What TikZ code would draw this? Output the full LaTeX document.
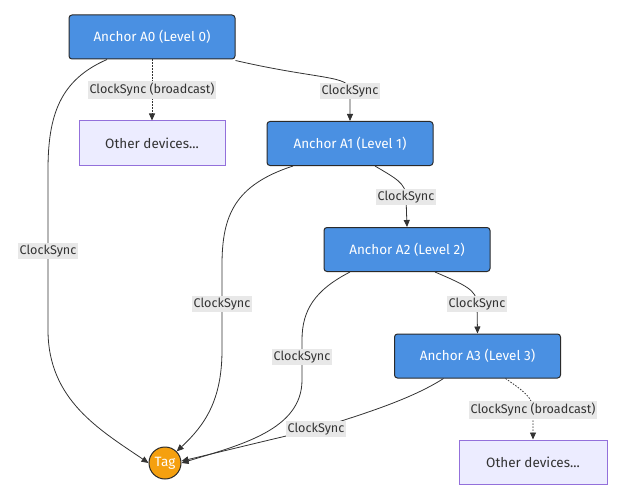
\documentclass[tikz,border=0pt]{standalone}
\usepackage{fontspec}
\setmainfont{Fira Sans}
\usetikzlibrary{arrows.meta,calc}
\definecolor{anc}{HTML}{4A90E2}
\definecolor{ancb}{HTML}{2A2A2A}
\definecolor{oth}{HTML}{ECECFF}
\definecolor{othb}{HTML}{9370DB}
\definecolor{tagc}{HTML}{F5A00F}
\definecolor{lbl}{HTML}{E8E8E8}
\definecolor{txt}{HTML}{333333}
\tikzset{
  anchorbox/.style={draw=ancb,line width=1pt,fill=anc,rounded corners=3pt,minimum width=166pt,minimum height=44pt,text=white,font=\fontsize{13.5}{15}\selectfont,inner sep=0pt},
  otherbox/.style={draw=othb,line width=1pt,fill=oth,minimum width=146pt,minimum height=44pt,text=txt,font=\fontsize{13.5}{15}\selectfont,inner sep=0pt},
  tagnode/.style={circle,draw=ancb,line width=1pt,fill=tagc,minimum size=32pt,inner sep=0pt,text=white,font=\fontsize{13.5}{15}\selectfont},
  edgelbl/.style={fill=lbl,text=txt,font=\fontsize{12.6}{14}\selectfont,inner sep=2pt},
  edge/.style={draw=txt,line width=0.8pt,-{Triangle[length=7pt,width=6pt]}},
  dotedge/.style={edge,dash pattern=on 1.5pt off 1.5pt},
}
\begin{document}
\begin{tikzpicture}[x=1pt,y=-1pt]
\useasboundingbox (0,0) rectangle (618,500);
\node[anchorbox] (A0) at (152,37) {Anchor A0 (Level 0)};
\node[otherbox] (O1) at (152,143) {Other devices...};
\node[anchorbox] (A1) at (350,143.5) {Anchor A1 (Level 1)};
\node[anchorbox] (A2) at (407,249.5) {Anchor A2 (Level 2)};
\node[anchorbox] (A3) at (477.5,356) {Anchor A3 (Level 3)};
\node[otherbox,minimum width=148pt] (O2) at (533,462) {Other devices...};
\node[tagnode] (T) at (165,463) {Tag};

\coordinate (a0t) at (48,251);
\coordinate (a0o) at (152,90);
\coordinate (a01) at (350,91);
\coordinate (a1t) at (222,304);
\coordinate (a12) at (406,197);
\coordinate (a2t) at (302,357);
\coordinate (a23) at (477,304);
\coordinate (a3t) at (316,429);
\coordinate (a3o) at (533,410);

\draw[edge] ($(A0.south)+(-45,0)$) .. controls (60,80) and (48,115) .. (48,170) -- (a0t) -- (48,330) .. controls (48,400) and (100,430) .. (T.west);
\draw[dotedge] (A0.south) -- (O1.north);
\draw[edge] ($(A0.south east)+(0,1)$) .. controls (320,80) and (350,75) .. (a01) -- (A1.north);
\draw[edge] ($(A1.south)+(-57,0)$) .. controls (235,185) and (222,215) .. (222,265) -- (a1t) -- (222,350) .. controls (222,400) and (205,425) .. (T.north east);
\draw[edge] ($(A1.south)+(25,0)$) .. controls (395,178) and (406,183) .. (a12) -- (A2.north);
\draw[edge] ($(A2.south)+(-57,0)$) .. controls (315,290) and (302,310) .. (302,340) -- (a2t) -- (302,380) .. controls (302,430) and (240,445) .. (T.east);
\draw[edge] ($(A2.south)+(28,0)$) .. controls (465,285) and (477,290) .. (a23) -- (A3.north);
\draw[edge] ($(A3.south)+(-34,0)$) .. controls (410,400) and (360,415) .. (a3t) .. controls (260,442) and (220,452) .. ($(T.east)+(0,-2)$);
\draw[dotedge] ($(A3.south)+(28,0)$) .. controls (525,392) and (533,398) .. (a3o) -- (O2.north);

\node[edgelbl] (l0t) at (a0t) {ClockSync};
\node[edgelbl] (l0o) at (a0o) {ClockSync (broadcast)};
\node[edgelbl] (l01) at (a01) {ClockSync};
\node[edgelbl] (l1t) at (a1t) {ClockSync};
\node[edgelbl] (l12) at (a12) {ClockSync};
\node[edgelbl] (l2t) at (a2t) {ClockSync};
\node[edgelbl] (l23) at (a23) {ClockSync};
\node[edgelbl] (l3t) at (a3t) {ClockSync};
\node[edgelbl] (l3o) at (a3o) {ClockSync (broadcast)};
\end{tikzpicture}
\end{document}
